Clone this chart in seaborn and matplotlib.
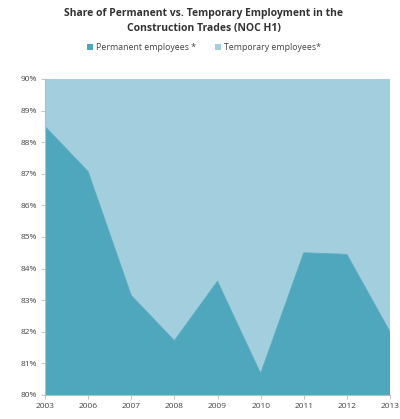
import matplotlib
matplotlib.use("Agg")
import matplotlib.pyplot as plt
import seaborn as sns
import numpy as np
from matplotlib.patches import Patch

years = ["2003", "2006", "2007", "2008", "2009", "2010", "2011", "2012", "2013"]
permanent = [88.5, 87.07, 83.15, 81.72, 83.6, 80.68, 84.5, 84.45, 82.0]
temporary = [100 - v for v in permanent]
ytick_vals = [80, 81, 82, 83, 84, 85, 86, 87, 88, 89, 90]

c_perm = "#4FA7BD"
c_temp = "#A3CEDD"

sns.set_style("white")
plt.rcParams['font.family'] = ['Open Sans', 'DejaVu Sans']

fig = plt.figure(figsize=(4.0, 4.19), dpi=100)
ax = fig.add_axes([45/400, 1-395/419, (390-45)/400, (395-79)/419])

x = np.arange(len(years))
ax.stackplot(x, permanent, temporary, colors=[c_perm, c_temp], linewidth=0)
sns.lineplot(x=x, y=permanent, ax=ax, color=c_perm, linewidth=0.6)

ax.set_xlim(0, len(years) - 1)
ax.set_ylim(80, 90)
ax.set_xticks(x)
ax.set_xticklabels(years)
ax.set_yticks(ytick_vals)
ax.set_yticklabels([f"{v}%" for v in ytick_vals])
for s in ["top", "right"]:
    ax.spines[s].set_visible(False)
for s in ["left", "bottom"]:
    ax.spines[s].set_color("#BBBBBB")
    ax.spines[s].set_linewidth(0.8)
ax.tick_params(axis="both", labelsize=6, colors="#444444", length=3, width=0.6,
               color="#BBBBBB", pad=3)
ax.tick_params(axis="x", bottom=True, direction="out")
ax.tick_params(axis="y", left=True, direction="out")
ax.grid(False)

fig.text(0.51, 1-21/419, "Share of Permanent vs. Temporary Employment in the\nConstruction Trades (NOC H1)",
         ha="center", va="center", fontsize=7.5, fontweight="bold", color="#333333", linespacing=1.5)

handles = [Patch(facecolor=c_perm, edgecolor="none"), Patch(facecolor=c_temp, edgecolor="none")]
fig.legend(handles, ["Permanent employees *", "Temporary employees*"], loc="center",
           bbox_to_anchor=(0.51, 1-48/419), ncol=2, frameon=False, fontsize=6.3,
           handlelength=0.7, handleheight=0.7, handletextpad=0.3, columnspacing=2.2,
           labelcolor="#444444")

fig.savefig("out.png", dpi=100)
